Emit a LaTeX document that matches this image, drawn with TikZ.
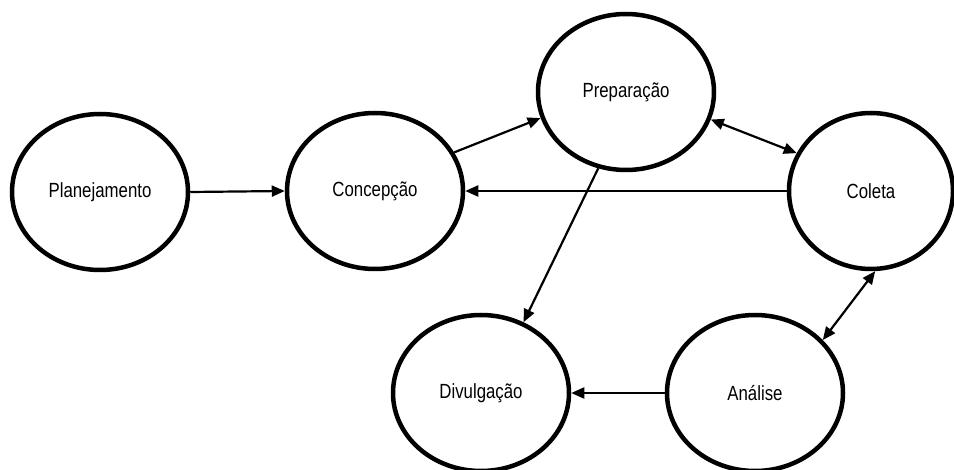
\documentclass[tikz,border=0pt]{standalone}
\usepackage{fontspec}
\setmainfont[FakeStretch=0.82]{Liberation Sans}
\usetikzlibrary{shapes.geometric,arrows.meta}
\begin{document}
\begin{tikzpicture}[x=1pt,y=-1pt,
  stage/.style={ellipse,draw,line width=4.5pt,minimum width=176pt,minimum height=156pt,
    inner sep=0pt,font=\fontsize{20.5}{24}\selectfont},
  flow/.style={line width=2.2pt,-{Triangle[length=13pt,width=11pt]}},
  twoway/.style={line width=2.2pt,{Triangle[length=13pt,width=11pt]}-{Triangle[length=13pt,width=11pt]}}]
  \useasboundingbox (0,0) rectangle (954,470);
  % stages of the process
  \node[stage] (plan) at (100,192) {Planejamento};
  \node[stage] (conc) at (375,191) {Concepção};
  \node[stage] (prep) at (626,92) {Preparação};
  \node[stage,minimum width=164pt] (col) at (871,191) {Coleta};
  \node[stage] (div) at (481,393) {Divulgação};
  \node[stage] (ana) at (755,393) {Análise};
  % connections between stages
  \draw[flow] (plan.east) -- (conc.west);
  \draw[flow] (conc.26) -- (prep.197);
  \draw[flow] (col.west) -- (conc.east);
  \draw[twoway] (prep.-18) -- (col.153);
  \draw[flow] (prep.250) -- (div.59);
  \draw[flow] (ana.west) -- (div.east);
  \draw[twoway] (col.273) -- (ana.38);
\end{tikzpicture}
\end{document}
